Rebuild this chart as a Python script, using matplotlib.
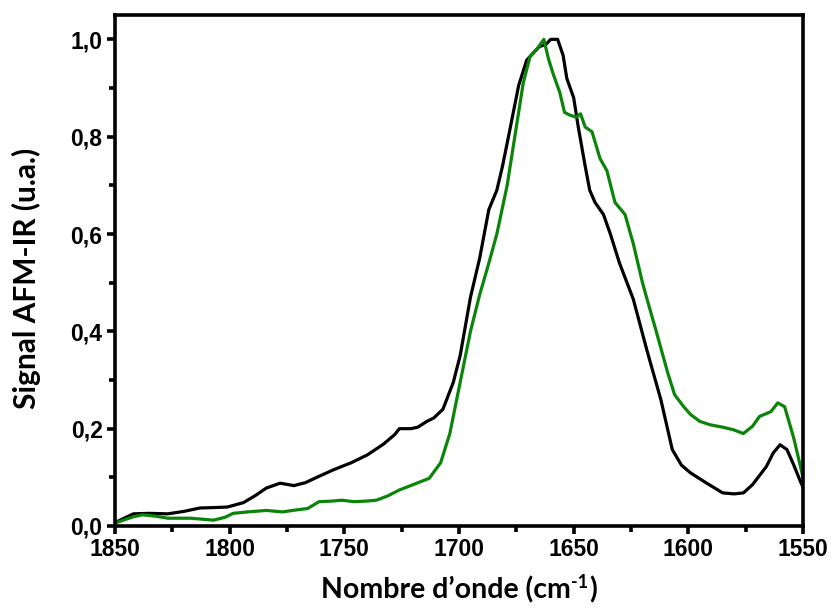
import numpy as np
import matplotlib
matplotlib.use("Agg")
import matplotlib.pyplot as plt
from matplotlib.ticker import MultipleLocator, FuncFormatter

# Black spectrum
black_x = [1850, 1842, 1835, 1827, 1820, 1813, 1806, 1801, 1794, 1789, 1784, 1778, 1772, 1767,
           1762, 1755, 1747, 1740, 1733, 1728, 1726, 1721, 1718, 1714, 1711, 1707, 1702.5, 1699.5,
           1695, 1691, 1687, 1683.5, 1681, 1678, 1674, 1670.5, 1667, 1665, 1662, 1660, 1657,
           1654.6, 1653, 1650, 1648, 1645, 1643, 1640.7, 1637, 1634, 1630, 1624, 1618, 1612,
           1607, 1603, 1599, 1592, 1585, 1580, 1576, 1572, 1566, 1563, 1560, 1557, 1554, 1551, 1550]
black_y = [0.007, 0.025, 0.026, 0.025, 0.030, 0.037, 0.038, 0.039, 0.048, 0.062, 0.078, 0.088,
           0.083, 0.089, 0.100, 0.115, 0.130, 0.146, 0.168, 0.188, 0.200, 0.200, 0.203, 0.215,
           0.222, 0.240, 0.295, 0.350, 0.470, 0.550, 0.650, 0.690, 0.740, 0.810, 0.905, 0.957,
           0.975, 0.985, 0.990, 1.000, 1.000, 0.967, 0.920, 0.880, 0.820, 0.740, 0.690, 0.665,
           0.640, 0.600, 0.540, 0.466, 0.360, 0.260, 0.157, 0.125, 0.109, 0.088, 0.068, 0.066,
           0.068, 0.085, 0.122, 0.150, 0.167, 0.157, 0.125, 0.090, 0.080]

# Green spectrum
green_x = [1850, 1842, 1838, 1832, 1827, 1817, 1807, 1802, 1798.5, 1792, 1784, 1777, 1771, 1766,
           1761, 1756, 1751, 1746, 1741, 1736, 1731, 1726, 1720, 1713, 1708, 1704, 1699.5, 1695,
           1691, 1687, 1683.5, 1679, 1675, 1672, 1669, 1666, 1663, 1661, 1659, 1656, 1654, 1652,
           1649, 1647, 1645, 1642, 1638.5, 1635.5, 1632, 1627.6, 1624, 1620, 1618, 1614, 1609,
           1606, 1602, 1599, 1595, 1590.5, 1585, 1580.5, 1576, 1572, 1569, 1564, 1561, 1558,
           1554, 1550.5, 1550]
green_y = [0.006, 0.019, 0.023, 0.020, 0.016, 0.016, 0.012, 0.018, 0.026, 0.029, 0.032, 0.029,
           0.033, 0.036, 0.050, 0.051, 0.053, 0.050, 0.051, 0.053, 0.062, 0.074, 0.085, 0.098,
           0.130, 0.190, 0.295, 0.400, 0.475, 0.540, 0.600, 0.700, 0.820, 0.910, 0.965, 0.980,
           1.000, 0.960, 0.930, 0.890, 0.850, 0.845, 0.840, 0.847, 0.820, 0.810, 0.755, 0.730,
           0.665, 0.640, 0.580, 0.500, 0.466, 0.400, 0.315, 0.270, 0.245, 0.229, 0.215, 0.208,
           0.203, 0.198, 0.190, 0.205, 0.225, 0.235, 0.253, 0.245, 0.180, 0.110, 0.100]

x_ticks = [1850, 1800, 1750, 1700, 1650, 1600, 1550]
y_ticks = [0.0, 0.2, 0.4, 0.6, 0.8, 1.0]

fig = plt.figure(figsize=(8.33, 6.14), dpi=100)
ax = fig.add_axes([115 / 833, 1 - 526 / 614, (803 - 115) / 833, (526 - 15) / 614])

ax.plot(black_x, black_y, color="black", lw=2.3)
ax.plot(green_x, green_y, color="#0a850a", lw=2.3)

ax.set_xlim(1850, 1550)
ax.set_ylim(0, 1.05)
ax.set_xticks(x_ticks)
ax.set_yticks(y_ticks)
ax.xaxis.set_minor_locator(MultipleLocator(25))
ax.yaxis.set_minor_locator(MultipleLocator(0.1))
ax.yaxis.set_major_formatter(FuncFormatter(lambda v, p: f"{v:.1f}".replace(".", ",")))

for s in ax.spines.values():
    s.set_linewidth(2.6)
ax.tick_params(which="major", direction="out", length=6, width=2.6, top=False, right=False,
               labelsize=16.5, pad=3)
ax.tick_params(which="minor", direction="out", length=4, width=2.6, top=False, right=False)
for lab in ax.get_xticklabels() + ax.get_yticklabels():
    lab.set_fontfamily(["Liberation Sans", "DejaVu Sans"])
    lab.set_fontweight("bold")

lab_font = dict(fontsize=20.5, fontweight="bold", family=["Lato", "DejaVu Sans"])

# x label composed of main text, superscript and closing parenthesis
fig.canvas.draw()
renderer = fig.canvas.get_renderer()
y_lab = 1 - 590 / 614
t1 = fig.text(0, y_lab, "Nombre d\u2019onde (cm", ha="left", va="center", **lab_font)
t2 = fig.text(0, 0, "-1", ha="left", va="center", fontsize=13, fontweight="bold",
              family=["Lato", "DejaVu Sans"])
t3 = fig.text(0, 0, ")", ha="left", va="center", **lab_font)
w1 = t1.get_window_extent(renderer).width
w2 = t2.get_window_extent(renderer).width
w3 = t3.get_window_extent(renderer).width
total = w1 + w2 + w3 + 2
x0 = 459 - total / 2
t1.set_position((x0 / 833, y_lab))
t2.set_position(((x0 + w1 + 1) / 833, y_lab + 7 / 614))
t3.set_position(((x0 + w1 + w2 + 2) / 833, y_lab))

fig.text(26 / 833, 1 - 278 / 614, "Signal AFM-IR (u.a.)", ha="center", va="center", rotation=90,
         fontsize=21.5, fontweight="bold", family=["Lato", "DejaVu Sans"])

fig.savefig("out.png", dpi=100)
